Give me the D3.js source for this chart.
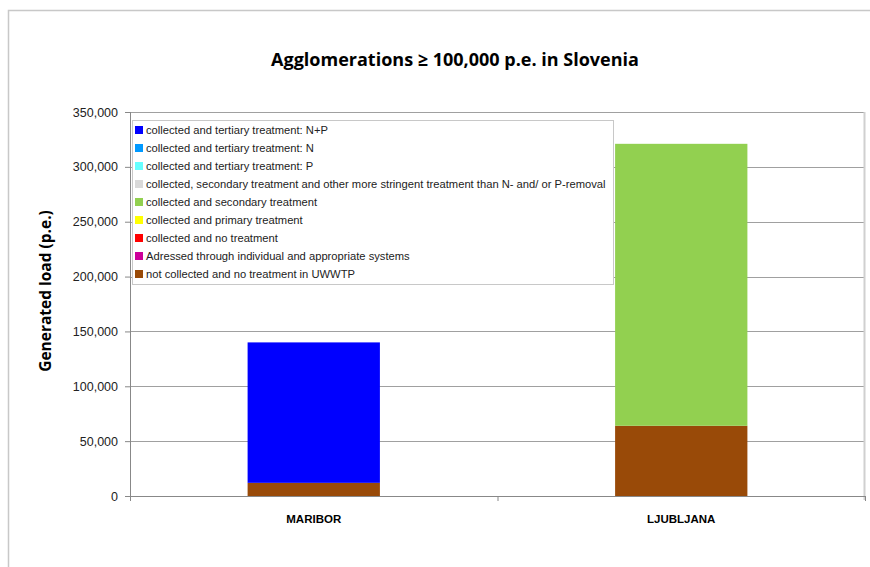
<!DOCTYPE html>
<html>
<head>
<meta charset="utf-8">
<script src="https://cdn.jsdelivr.net/npm/d3@7"></script>
<style>
  body { margin: 0; background: #fff; }
  svg { display: block; font-family: "Liberation Sans", Arial, sans-serif; }
</style>
</head>
<body>
<div id="chart"></div>
<script>
// categories and series (p.e.)
var cities = ["MARIBOR", "LJUBLJANA"];
var seriesNames = [
    "not collected and no treatment in UWWTP",
    "Adressed through individual and appropriate systems",
    "collected and no treatment",
    "collected and primary treatment",
    "collected and secondary treatment",
    "collected, secondary treatment and other more stringent treatment than N- and/ or P-removal",
    "collected and  tertiary treatment: P",
    "collected and tertiary treatment: N",
    "collected and tertiary treatment: N+P"
];
var seriesColors = ["#994a08", "#cc0099", "#ff0000", "#ffff00", "#92d050", "#d9d9d9", "#66ffff", "#0099ff", "#0000ff"];
// values per series, order = cities
var notCollected = [12000, 64000];
var individualSys = [0, 0];
var noTreatment = [0, 0];
var primary = [0, 0];
var secondary = [0, 257000];
var moreStringent = [0, 0];
var tertiaryP = [0, 0];
var tertiaryN = [0, 0];
var tertiaryNP = [128000, 0];
var yTicks = [0, 50000, 100000, 150000, 200000, 250000, 300000, 350000];

var seriesValues = [notCollected, individualSys, noTreatment, primary, secondary, moreStringent, tertiaryP, tertiaryN, tertiaryNP];

var width = 870, height = 567;
var margin = { left: 130, right: 5, top: 112, bottom: 71 };
var plotW = 865 - margin.left, plotH = 496 - margin.top;

var svg = d3.select("#chart").append("svg")
    .attr("width", width)
    .attr("height", height);

// outer frame
svg.append("rect")
    .attr("x", 8.5).attr("y", 10.5)
    .attr("width", 880).attr("height", 600)
    .attr("fill", "none")
    .attr("stroke", "#c8c8c8")
    .attr("stroke-width", 1.5);

var x = d3.scaleBand().domain(cities).range([0, plotW]).paddingInner(0.64).paddingOuter(0.32);
var y = d3.scaleLinear().domain([0, 350000]).range([plotH, 0]);

var g = svg.append("g").attr("transform", "translate(" + margin.left + "," + margin.top + ")");

// gridlines
g.selectAll(".grid").data(yTicks.slice(1)).enter().append("line")
    .attr("x1", 0).attr("x2", plotW)
    .attr("y1", function (d) { return Math.round(y(d)) + 0.5 })
    .attr("y2", function (d) { return Math.round(y(d)) + 0.5 })
    .attr("stroke", "#a0a0a0");

// plot area right border
g.append("line")
    .attr("x1", plotW - 0.5).attr("x2", plotW - 0.5)
    .attr("y1", 0).attr("y2", plotH + 4)
    .attr("stroke", "#d0d0d0").attr("stroke-width", 2);

// stacked data
var table = cities.map(function (c, i) {
    var row = { city: c };
    seriesNames.forEach(function (s, j) { row[s] = seriesValues[j][i]; });
    return row;
});
var stacked = d3.stack().keys(seriesNames)(table);

g.selectAll(".layer").data(stacked).enter().append("g")
    .attr("fill", function (d, i) { return seriesColors[i] })
    .selectAll("rect").data(function (d) { return d; }).enter().append("rect")
    .attr("x", function (d) { return x(d.data.city) })
    .attr("width", x.bandwidth())
    .attr("y", function (d) { return y(d[1]) })
    .attr("height", function (d) { return y(d[0]) - y(d[1]) });

// y axis
var yAxis = g.append("g")
    .call(d3.axisLeft(y).tickValues(yTicks).tickSize(5).tickPadding(7).tickFormat(d3.format(",")));
yAxis.select(".domain").attr("stroke", "#888").attr("d", "M0.5,0V" + plotH);
yAxis.selectAll(".tick line").attr("stroke", "#888");
yAxis.selectAll("text").attr("font-size", 12.5).attr("fill", "#222");

// x axis
var xAxis = g.append("g").attr("transform", "translate(0," + plotH + ")")
    .call(d3.axisBottom(x).tickSize(0).tickPadding(19));
xAxis.select(".domain").attr("stroke", "#888").attr("d", "M0," + 0.5 + "H" + plotW);
xAxis.selectAll("text").attr("font-size", 11.5).attr("font-weight", "bold").attr("fill", "#000");
g.selectAll(".cat-sep").data([0, 1, 2]).enter().append("line")
    .attr("x1", function (d) { return d * plotW / 2 + 0.5 })
    .attr("x2", function (d) { return d * plotW / 2 + 0.5 })
    .attr("y1", plotH).attr("y2", plotH + 5)
    .attr("stroke", "#888");

// title
svg.append("text")
    .attr("x", 455).attr("y", 66)
    .attr("text-anchor", "middle")
    .attr("font-size", 18).attr("font-weight", "bold")
    .attr("font-family", "'Open Sans', sans-serif")
    .text("Agglomerations \u2265 100,000 p.e. in Slovenia");

// y label
svg.append("text")
    .attr("transform", "translate(51,291) rotate(-90)")
    .attr("text-anchor", "middle")
    .attr("font-size", 15.5).attr("font-weight", "bold")
    .attr("font-family", "'Open Sans', sans-serif")
    .text("Generated load (p.e.)");

// legend
var legend = svg.append("g").attr("transform", "translate(132,120)");
legend.append("rect")
    .attr("x", 0.5).attr("y", 0.5).attr("width", 481).attr("height", 164)
    .attr("fill", "#fff").attr("stroke", "#c8c8c8");

var legendOrder = d3.range(seriesNames.length).reverse();
var item = legend.selectAll(".item").data(legendOrder).enter().append("g")
    .attr("transform", function (d, i) { return "translate(3," + (10 + i * 18) + ")" });
item.append("rect")
    .attr("x", 0).attr("y", -4).attr("width", 8).attr("height", 8)
    .attr("fill", function (d) { return seriesColors[d] });
item.append("text")
    .attr("x", 11).attr("y", 4)
    .attr("font-size", 11.2)
    .attr("fill", "#222")
    .text(function (d) { return seriesNames[d] });
</script>
</body>
</html>
